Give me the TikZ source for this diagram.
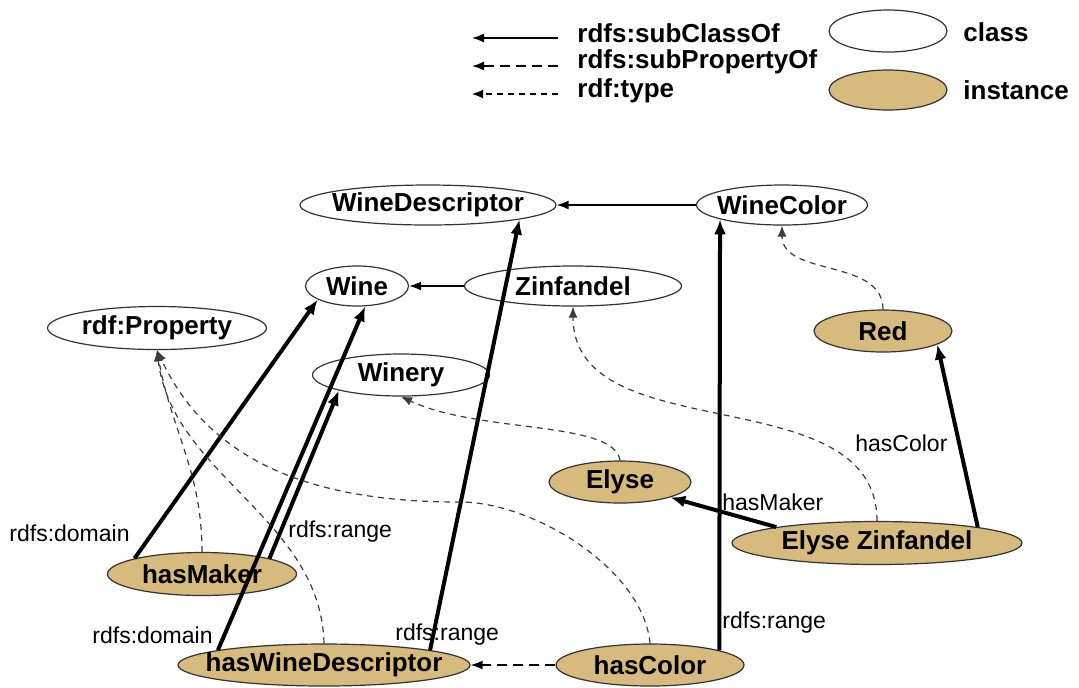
\documentclass[tikz,border=0pt]{standalone}
\usepackage{fontspec}
\setmainfont{Liberation Sans}
\usetikzlibrary{arrows.meta,shapes.geometric}
\definecolor{instfill}{RGB}{214,186,126}
\definecolor{typegray}{RGB}{60,60,60}
\newcommand{\ctext}[1]{\makebox[0pt]{#1}}

\begin{document}
\begin{tikzpicture}[x=0.5pt,y=0.5pt,
		cls/.style={draw=black!80,ellipse,line width=0.6pt,fill=white,inner sep=0pt,minimum height=20pt,font=\bfseries\fontsize{13}{15}\selectfont},
		inst/.style={cls,fill=instfill},
		lbl/.style={inner sep=0pt,font=\fontsize{11.5}{13}\selectfont},
		key/.style={inner sep=0pt,anchor=west,font=\bfseries\fontsize{13}{15}\selectfont},
		sub/.style={-{Latex[length=6pt,width=4.5pt]},line width=0.7pt},
		subprop/.style={sub,dash pattern=on 5pt off 3pt},
		typ/.style={-{Latex[length=5.5pt,width=4.5pt]},line width=0.6pt,draw=typegray,dash pattern=on 3pt off 2.5pt},
		prop/.style={-{Latex[length=7.5pt,width=6pt]},line width=2pt}]
	\useasboundingbox (0,0) rectangle (1079,-687);
	% legend
	\node (kcls) at (888,-31) [cls,minimum width=59pt,minimum height=21pt] {};
	\node (kinst) at (888,-90) [inst,minimum width=59pt,minimum height=20pt] {};
	\node (kclstxt) at (963,-32) [key] {class};
	\node (kinsttxt) at (963,-90) [key] {instance};
	\node (ksub) at (577,-33) [key] {rdfs:subClassOf};
	\node (ksubp) at (577,-62) [key] {rdfs:subPropertyOf};
	\node (ktype) at (577,-91) [key] {rdf:type};
	\coordinate (ksubs) at (558,-38);
	\coordinate (ksube) at (472,-38);
	\coordinate (ksubps) at (558,-66);
	\coordinate (ksubpe) at (472,-66);
	\coordinate (ktypes) at (558,-94);
	\coordinate (ktypee) at (472,-94);
	\draw[sub] (ksubs)--(ksube);
	\draw[subprop] (ksubps)--(ksubpe);
	\draw[typ,draw=black] (ktypes)--(ktypee);
	% classes
	\node (wdesc) at (428,-205) [cls,minimum width=128pt] {\ctext{WineDescriptor}};
	\node (wcolor) at (782,-205) [cls,minimum width=85.5pt] {\ctext{WineColor}};
	\node (wine) at (357,-286) [cls,minimum width=51.5pt] {\ctext{Wine}};
	\node (zin) at (573,-286) [cls,minimum width=108.5pt] {\ctext{Zinfandel}};
	\node (rdfprop) at (157,-328) [cls,minimum width=109.5pt,minimum height=21.5pt] {\ctext{rdf:Property}};
	\node (winery) at (401,-375) [cls,minimum width=88.5pt,minimum height=21pt] {\ctext{Winery}};
	% instances
	\node (red) at (883,-331) [inst,minimum width=69pt,minimum height=21pt] {\ctext{Red}};
	\node (elyse) at (620,-482) [inst,minimum width=71pt,minimum height=21pt] {\ctext{Elyse}};
	\node (ezin) at (877,-543) [inst,minimum width=145pt,minimum height=21.5pt] {\ctext{Elyse Zinfandel}};
	\node (hmaker) at (202,-574) [inst,minimum width=94.5pt,minimum height=21.5pt] {\ctext{hasMaker}};
	\node (hwdesc) at (324,-665) [inst,minimum width=146pt,minimum height=21pt] {\ctext{hasWineDescriptor}};
	\node (hcolor) at (650,-665) [inst,minimum width=94pt,minimum height=21pt] {\ctext{hasColor}};
	% subclass / subproperty
	\draw[sub] (zin)--(wine);
	\draw[sub] (wcolor)--(wdesc);
	\draw[subprop] (hcolor)--(hwdesc);
	% properties
	\draw[prop] (hmaker.167)--(wine.199);
	\draw[prop] (hmaker.13)--(winery.194);
	\draw[prop] (hwdesc.172)--(wine.292);
	\draw[prop] (hwdesc.8)--(wdesc.351);
	\draw[prop] (hcolor.12)--(wcolor.193);
	\draw[prop] (ezin.171)--(elyse.343);
	\draw[prop] (ezin.9)--(red.346);
	\node (ldom1) at (130,-533) [lbl,anchor=east] {rdfs:domain};
	\node (lrng1) at (288,-532) [lbl,anchor=west] {rdfs:range};
	\node (ldom2) at (213,-635) [lbl,anchor=east] {rdfs:domain};
	\node (lrng2) at (395,-635) [lbl,anchor=west] {rdfs:range};
	\node (lrng3) at (722,-623) [lbl,anchor=west] {rdfs:range};
	\node (lmaker) at (722,-502) [lbl,anchor=west] {hasMaker};
	\node (lcolor) at (855,-443) [lbl,anchor=west] {hasColor};
	% types
	\draw[typ] (red.north) to[out=90,in=-90] (wcolor.south);
	\draw[typ] (ezin.north) to[out=90,in=-90] (zin.south);
	\draw[typ] (elyse.north) .. controls +(-6,40) and +(79,-37) .. (winery.south);
	\draw[typ] (hmaker.north) to[out=90,in=-80] (rdfprop.south);
	\draw[typ] (hwdesc.north) .. controls +(-3,125) and +(15,-125) .. (rdfprop.south);
	\coordinate (hcbend) at (460,-502);
	\draw[typ] (hcolor.north) to[out=95,in=0,looseness=0.8] (hcbend) to[out=180,in=-65] (rdfprop.south);
\end{tikzpicture}
\end{document}
